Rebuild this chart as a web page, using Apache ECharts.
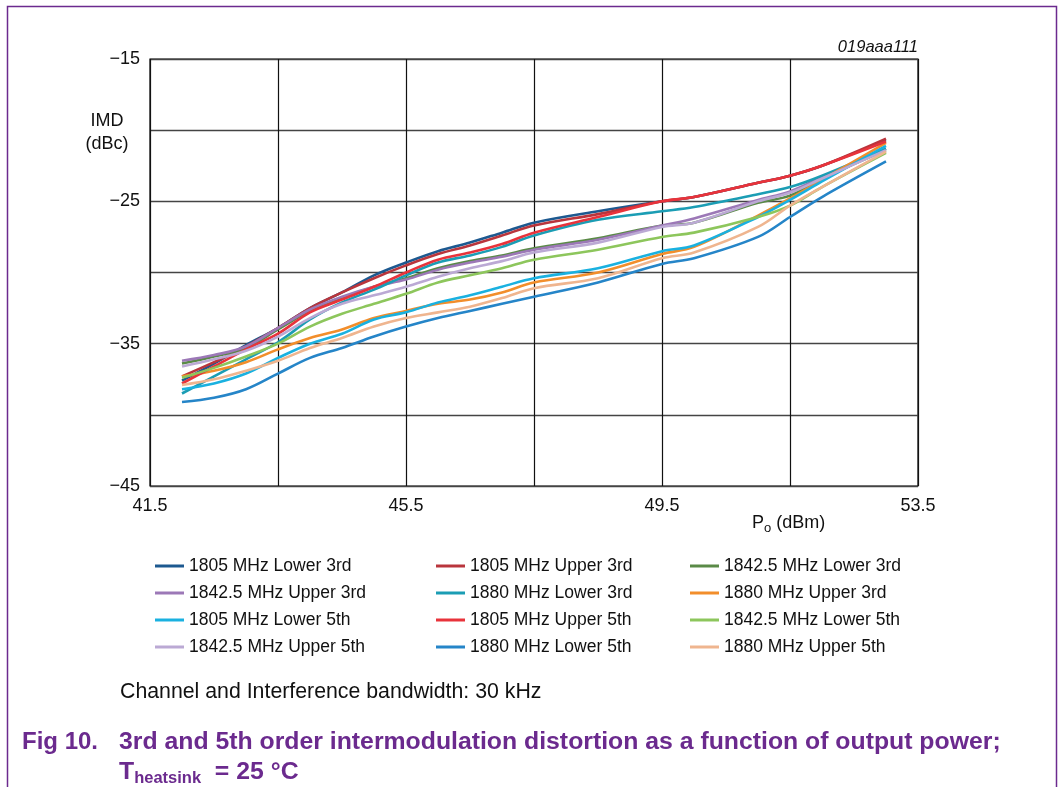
<!DOCTYPE html>
<html>
<head>
<meta charset="utf-8">
<title>IMD versus output power</title>
<script src="https://cdn.jsdelivr.net/npm/echarts@6/dist/echarts.min.js"></script>
<style>
  html, body { margin: 0; padding: 0; background: #fff; }
  #chart { width: 1063px; height: 787px; }
</style>
</head>
<body>
<div id="chart"></div>
<script>
// Output power sample points (dBm)
const powerDbm = [42, 42.5, 43, 43.5, 44, 44.5, 45, 45.5, 46, 46.5, 47, 47.5, 48.5, 49.5, 50, 51, 51.5, 52, 53];

// IMD (dBc) for each carrier / product
const imd1805Lower3 = [-37.6, -36.4, -35.1, -33.9, -32.5, -31.4, -30.2, -29.3, -28.5, -27.9, -27.2, -26.5, -25.7, -25.0, -24.7, -23.7, -23.2, -22.5, -20.7];
const imd1805Upper3 = [-37.3, -36.3, -35.2, -33.9, -32.5, -31.4, -30.4, -29.5, -28.7, -28.1, -27.4, -26.7, -25.9, -25.0, -24.7, -23.7, -23.2, -22.5, -20.6];
const imd1842Lower3 = [-36.4, -35.9, -35.3, -34.0, -32.7, -31.8, -31.0, -30.4, -29.7, -29.2, -28.8, -28.3, -27.6, -26.7, -26.5, -25.1, -24.6, -23.4, -21.4];
const imd1842Upper3 = [-36.2, -35.8, -35.2, -33.9, -32.6, -31.7, -31.0, -30.5, -29.8, -29.3, -28.9, -28.4, -27.7, -26.7, -26.2, -24.9, -24.3, -23.3, -21.3];
const imd1880Lower3 = [-38.5, -37.3, -36.1, -34.9, -33.3, -32.1, -31.2, -30.2, -29.3, -28.8, -28.2, -27.4, -26.3, -25.7, -25.4, -24.5, -24.0, -23.2, -21.3];
const imd1880Upper3 = [-37.3, -36.9, -36.3, -35.4, -34.6, -34.0, -33.2, -32.7, -32.2, -31.9, -31.4, -30.7, -30.0, -28.7, -28.2, -26.0, -24.8, -23.5, -20.9];
const imd1805Lower5 = [-38.2, -37.8, -37.1, -36.0, -35.0, -34.3, -33.3, -32.8, -32.1, -31.6, -31.0, -30.4, -29.7, -28.5, -28.1, -26.1, -24.9, -23.6, -21.1];
const imd1805Upper5 = [-37.8, -36.6, -35.4, -34.3, -32.8, -31.9, -31.0, -30.0, -29.1, -28.6, -28.0, -27.2, -26.1, -25.0, -24.7, -23.7, -23.2, -22.5, -20.8];
const imd1842Lower5 = [-37.4, -36.7, -35.9, -35.0, -33.8, -32.9, -32.2, -31.5, -30.7, -30.2, -29.7, -29.1, -28.4, -27.5, -27.2, -26.1, -25.3, -24.0, -21.6];
const imd1842Upper5 = [-36.6, -36.1, -35.5, -34.5, -33.2, -32.2, -31.6, -31.0, -30.3, -29.7, -29.2, -28.6, -27.9, -26.8, -26.5, -25.0, -24.4, -23.4, -21.4];
const imd1880Lower5 = [-39.1, -38.8, -38.2, -37.1, -36.0, -35.3, -34.5, -33.8, -33.2, -32.7, -32.2, -31.7, -30.7, -29.4, -29.0, -27.5, -26.1, -24.7, -22.2];
const imd1880Upper5 = [-37.9, -37.5, -36.9, -36.2, -35.3, -34.6, -33.8, -33.2, -32.8, -32.4, -31.8, -31.1, -30.4, -29.0, -28.6, -26.8, -25.3, -24.0, -21.5];

const seriesNames = [
  '1805 MHz Lower 3rd', '1805 MHz Upper 3rd', '1842.5 MHz Lower 3rd',
  '1842.5 MHz Upper 3rd', '1880 MHz Lower 3rd', '1880 MHz Upper 3rd',
  '1805 MHz Lower 5th', '1805 MHz Upper 5th', '1842.5 MHz Lower 5th',
  '1842.5 MHz Upper 5th', '1880 MHz Lower 5th', '1880 MHz Upper 5th'
];
const seriesValues = [
  imd1805Lower3, imd1805Upper3, imd1842Lower3,
  imd1842Upper3, imd1880Lower3, imd1880Upper3,
  imd1805Lower5, imd1805Upper5, imd1842Lower5,
  imd1842Upper5, imd1880Lower5, imd1880Upper5
];
const seriesColors = [
  '#1d5990', '#b9353c', '#5a8a47',
  '#9c78b7', '#1b9db4', '#f28e2b',
  '#1ab1e0', '#e8333b', '#8dc65c',
  '#bba9d4', '#2585c8', '#efb58f'
];

// Axis ranges and labelled ticks
const xStart = 41.5, xEnd = 53.5, xStep = 2;
const xLabelled = [41.5, 45.5, 49.5, 53.5];
const yStart = -45, yEnd = -15, yStep = 5;
const yLabelled = [-45, -35, -25, -15];

const FONT = '"Liberation Sans", Arial, Helvetica, sans-serif';
const PURPLE = '#6b2a8e';

// The x axis is laid out relative to its start so that grid lines fall on 41.5, 43.5, ...
const series = seriesNames.map((name, i) => ({
  name,
  type: 'line',
  smooth: 0.35,
  symbol: 'none',
  lineStyle: { width: 2.6, color: seriesColors[i] },
  itemStyle: { color: seriesColors[i] },
  data: powerDbm.map((p, k) => [p - xStart, seriesValues[i][k]])
}));

const legendCols = [0, 1, 2].map(c => ({
  data: seriesNames.filter((_, i) => i % 3 === c),
  orient: 'vertical',
  left: [155, 436, 690][c],
  top: 556,
  padding: 0,
  icon: 'rect',
  itemWidth: 29,
  itemHeight: 3,
  itemGap: 7,
  selectedMode: false,
  textStyle: { fontFamily: FONT, fontSize: 17.5, color: '#111', lineHeight: 20 }
}));

const fmtNum = v => (v < 0 ? '\u2212' + Math.abs(v) : String(v));

const chart = echarts.init(document.getElementById('chart'), null, { renderer: 'canvas' });
chart.setOption({
  backgroundColor: '#fff',
  animation: false,
  textStyle: { fontFamily: FONT },
  grid: {
    left: 150, top: 59, width: 768, height: 427,
    show: true, borderColor: '#000', borderWidth: 1.2
  },
  legend: legendCols,
  xAxis: {
    type: 'value',
    min: 0, max: xEnd - xStart, interval: xStep,
    axisLine: { show: false },
    axisTick: { show: false },
    splitLine: { show: true, lineStyle: { color: '#111', width: 1.2 } },
    axisLabel: {
      margin: 11, fontSize: 18, color: '#111', fontFamily: FONT,
      formatter: v => {
        const p = +(v + xStart).toFixed(1);
        return xLabelled.includes(p) ? p.toFixed(1) : '';
      }
    }
  },
  yAxis: {
    type: 'value',
    min: yStart, max: yEnd, interval: yStep,
    axisLine: { show: false },
    axisTick: { show: false },
    splitLine: { show: true, lineStyle: { color: '#444', width: 1.4 } },
    axisLabel: {
      margin: 10, fontSize: 18, color: '#111', fontFamily: FONT,
      formatter: v => (yLabelled.includes(v) ? fmtNum(v) : '')
    }
  },
  series,
  graphic: [
    {
      type: 'rect', silent: true,
      shape: { x: 7.5, y: 6.5, width: 1049, height: 820 },
      style: { fill: 'none', stroke: PURPLE, lineWidth: 1.5 }
    },
    {
      type: 'text', x: 918, y: 39,
      style: { text: '019aaa111', fontFamily: FONT, fontSize: 16.5, fontStyle: 'italic', align: 'right', fill: '#111' }
    },
    {
      type: 'text', x: 107, y: 110,
      style: { text: 'IMD\n(dBc)', fontFamily: FONT, fontSize: 18, lineHeight: 23, align: 'center', fill: '#111' }
    },
    {
      type: 'text', x: 752, y: 511,
      style: {
        text: '{m|P}{s|o}{m| (dBm)}', fill: '#111',
        rich: {
          m: { fontFamily: FONT, fontSize: 18, lineHeight: 24, verticalAlign: 'middle' },
          s: { fontFamily: FONT, fontSize: 13, lineHeight: 24, verticalAlign: 'bottom' }
        }
      }
    },
    {
      type: 'text', x: 120, y: 682,
      style: { text: 'Channel and Interference bandwidth: 30 kHz', fontFamily: FONT, fontSize: 21.3, fill: '#111' }
    },
    {
      type: 'text', x: 22, y: 730,
      style: { text: 'Fig 10.', fontFamily: FONT, fontSize: 24, fontWeight: 'bold', fill: PURPLE }
    },
    {
      type: 'text', x: 119, y: 730,
      style: { text: '3rd and 5th order intermodulation distortion as a function of output power;', fontFamily: FONT, fontSize: 24.8, fontWeight: 'bold', fill: PURPLE }
    },
    {
      type: 'text', x: 119, y: 757,
      style: {
        text: '{m|T}{s|heatsink}{m|  = 25 \u00B0C}', fill: PURPLE,
        rich: {
          m: { fontFamily: FONT, fontSize: 24.8, fontWeight: 'bold', lineHeight: 30, verticalAlign: 'middle', fill: PURPLE },
          s: { fontFamily: FONT, fontSize: 16.5, fontWeight: 'bold', lineHeight: 30, verticalAlign: 'bottom', fill: PURPLE }
        }
      }
    }
  ]
});
</script>
</body>
</html>
